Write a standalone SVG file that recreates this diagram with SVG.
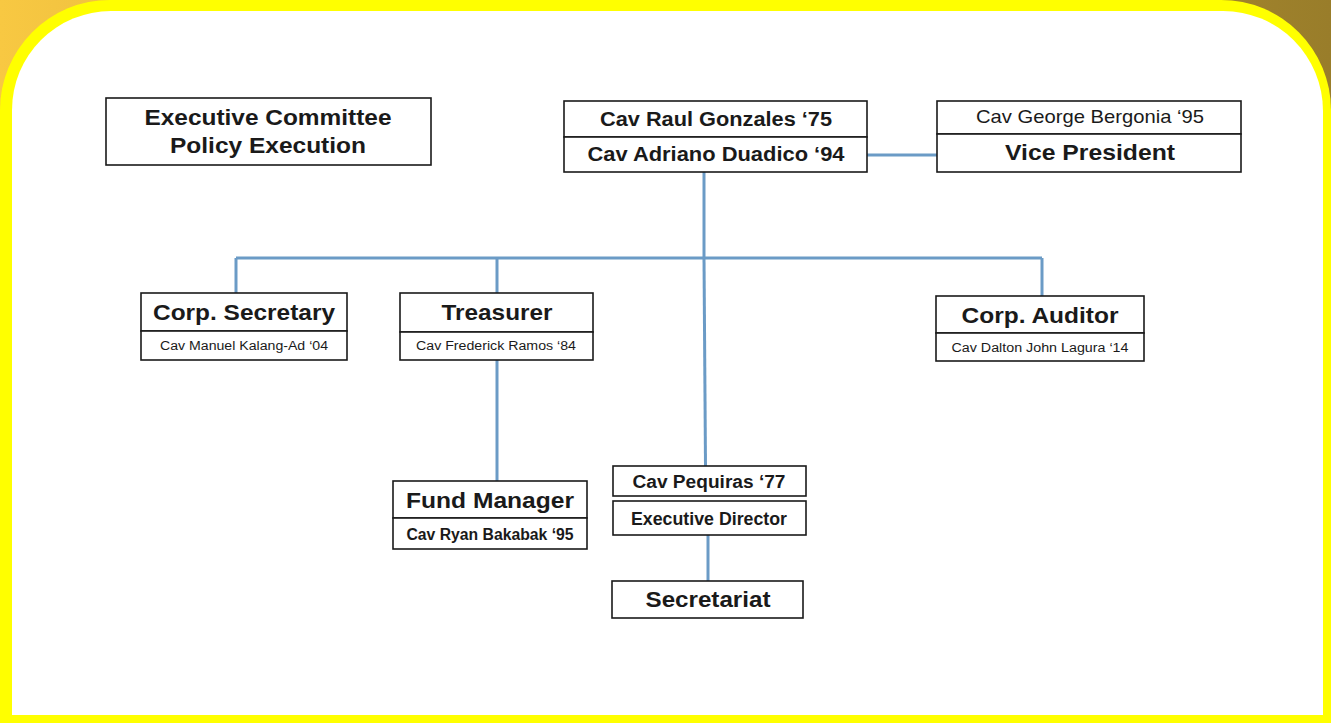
<svg xmlns="http://www.w3.org/2000/svg" width="1331" height="723" viewBox="0 0 1331 723">
<defs>
<linearGradient id="bg" x1="0" y1="0" x2="1" y2="0">
<stop offset="0" stop-color="#F8C842"/>
<stop offset="1" stop-color="#997D2A"/>
</linearGradient>
<style>
.box{fill:#fff;stroke:#1a1a1a;stroke-width:1.6}
.t{font-family:"Liberation Sans",Arial,sans-serif;fill:#1a1a1a;text-anchor:middle}
.big{font-size:22px;font-weight:bold}
.mid{font-size:20px;font-weight:bold}
.sm{font-size:12.5px}
.con{stroke:#6B9BC6;stroke-width:3;fill:none}
</style>
</defs>
<rect x="0" y="0" width="1331" height="723" fill="url(#bg)"/>
<path d="M0,723 L0,110 A110,110 0 0 1 110,0 L1221,0 A110,110 0 0 1 1331,110 L1331,723 Z" fill="#FFFF00"/>
<path d="M12,715 L12,110 A99,99 0 0 1 111,11 L1223,11 A100,100 0 0 1 1323,111 L1323,715 Z" fill="#fff"/>

<g id="connectors">
<line class="con" x1="867" y1="155" x2="937" y2="155"/>
<line class="con" x1="704" y1="172" x2="704" y2="258"/>
<line class="con" x1="236" y1="258" x2="1042" y2="258"/>
<line class="con" x1="236" y1="258" x2="236" y2="293"/>
<line class="con" x1="497" y1="258" x2="497" y2="293"/>
<line class="con" x1="1042" y1="258" x2="1042" y2="296"/>
<line class="con" x1="704" y1="258" x2="705.5" y2="466"/>
<line class="con" x1="497" y1="360" x2="497" y2="481"/>
<line class="con" x1="708" y1="535" x2="708" y2="581"/>
</g>

<g id="exec-committee">
<rect class="box" x="106" y="98" width="325" height="67"/>
<text class="t big" x="268" y="125" textLength="247" lengthAdjust="spacingAndGlyphs">Executive Committee</text>
<text class="t big" x="268" y="153" textLength="196" lengthAdjust="spacingAndGlyphs">Policy Execution</text>
</g>

<g id="president">
<rect class="box" x="564" y="101" width="303" height="36"/>
<rect class="box" x="564" y="137" width="303" height="35"/>
<text class="t mid" x="716" y="126" textLength="232" lengthAdjust="spacingAndGlyphs">Cav Raul Gonzales ‘75</text>
<text class="t mid" x="716" y="161" textLength="257" lengthAdjust="spacingAndGlyphs">Cav Adriano Duadico ‘94</text>
</g>

<g id="vice-president">
<rect class="box" x="937" y="101" width="304" height="33"/>
<rect class="box" x="937" y="134" width="304" height="38"/>
<text class="t" x="1090" y="123" font-size="19" textLength="228" lengthAdjust="spacingAndGlyphs">Cav George Bergonia ‘95</text>
<text class="t big" x="1090" y="160" textLength="170" lengthAdjust="spacingAndGlyphs">Vice President</text>
</g>

<g id="corp-secretary">
<rect class="box" x="141" y="293" width="206" height="38"/>
<rect class="box" x="141" y="331" width="206" height="29"/>
<text class="t big" x="244" y="320" textLength="182" lengthAdjust="spacingAndGlyphs">Corp. Secretary</text>
<text class="t sm" x="244" y="350" textLength="168" lengthAdjust="spacingAndGlyphs">Cav Manuel Kalang-Ad ‘04</text>
</g>

<g id="treasurer">
<rect class="box" x="400" y="293" width="193" height="39"/>
<rect class="box" x="400" y="332" width="193" height="28"/>
<text class="t big" x="497" y="320" textLength="111" lengthAdjust="spacingAndGlyphs">Treasurer</text>
<text class="t sm" x="496" y="350" textLength="160" lengthAdjust="spacingAndGlyphs">Cav Frederick Ramos ‘84</text>
</g>

<g id="corp-auditor">
<rect class="box" x="936" y="296" width="208" height="37"/>
<rect class="box" x="936" y="333" width="208" height="28"/>
<text class="t big" x="1040" y="323" textLength="157" lengthAdjust="spacingAndGlyphs">Corp. Auditor</text>
<text class="t sm" x="1040" y="352" textLength="177" lengthAdjust="spacingAndGlyphs">Cav Dalton John Lagura ‘14</text>
</g>

<g id="fund-manager">
<rect class="box" x="393" y="481" width="194" height="37"/>
<rect class="box" x="393" y="518" width="194" height="31"/>
<text class="t big" x="490" y="508" textLength="168" lengthAdjust="spacingAndGlyphs">Fund Manager</text>
<text class="t" x="490" y="540" font-size="16" font-weight="bold" textLength="167" lengthAdjust="spacingAndGlyphs">Cav Ryan Bakabak ‘95</text>
</g>

<g id="executive-director">
<rect class="box" x="613" y="466" width="193" height="30"/>
<rect class="box" x="613" y="501" width="193" height="34"/>
<text class="t" x="709" y="488" font-size="18" font-weight="bold" textLength="153" lengthAdjust="spacingAndGlyphs">Cav Pequiras ‘77</text>
<text class="t" x="709" y="525" font-size="18" font-weight="bold" textLength="156" lengthAdjust="spacingAndGlyphs">Executive Director</text>
</g>

<g id="secretariat">
<rect class="box" x="612" y="581" width="191" height="37"/>
<text class="t big" x="708" y="607" textLength="125" lengthAdjust="spacingAndGlyphs">Secretariat</text>
</g>
</svg>
